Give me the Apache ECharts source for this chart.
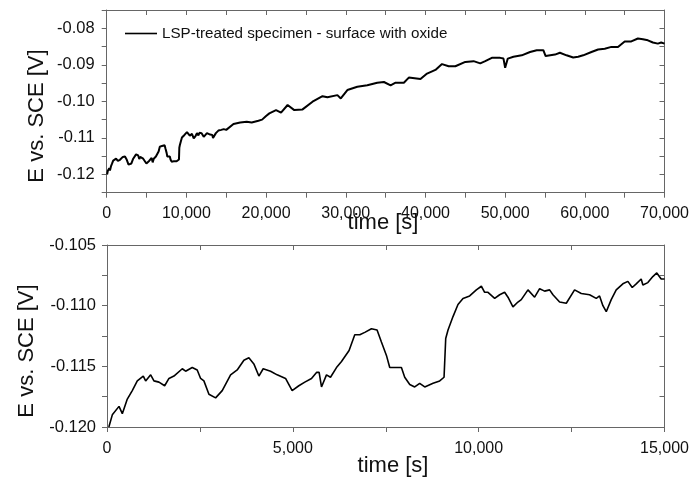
<!DOCTYPE html>
<html>
<head>
<meta charset="utf-8">
<script src="https://cdn.jsdelivr.net/npm/echarts@6/dist/echarts.min.js"></script>
<style>
html,body{margin:0;padding:0;background:#fff;}
#chart{width:692px;height:477px;}
</style>
</head>
<body>
<div id="chart"></div>
<script>
// Detail record (0 - 15,000 s), also the start of the long record
const detailTime = [50,143,323,412,546,680,815,976,1040,1175,1263,1398,1551,1667,1801,2025,2115,2293,2427,2519,2607,2742,2922,3100,3325,3503,3683,3817,3951,4086,4202,4400,4578,4804,4981,5161,5322,5502,5637,5707,5771,5905,6013,6174,6309,6513,6666,6801,6935,7115,7266,7383,7518,7607,7787,7921,8010,8145,8279,8413,8548,8772,8951,9068,9113,9175,9309,9443,9578,9757,9937,10072,10161,10250,10430,10564,10698,10788,10922,11056,11146,11326,11505,11640,11774,11908,11998,12177,12357,12580,12760,12983,13163,13252,13342,13432,13566,13700,13879,14014,14131,14238,14372,14417,14551,14685,14792,14910,15000];
const detailE = [-0.1200,-0.1190,-0.1183,-0.1189,-0.1177,-0.1170,-0.1162,-0.1158,-0.1162,-0.1157,-0.1162,-0.1163,-0.1166,-0.1160,-0.1158,-0.1152,-0.1154,-0.1151,-0.1153,-0.1160,-0.1162,-0.1173,-0.1176,-0.1170,-0.1157,-0.1153,-0.1145,-0.1143,-0.1148,-0.1158,-0.1152,-0.1154,-0.1157,-0.1160,-0.1170,-0.1166,-0.1163,-0.1160,-0.1155,-0.1155,-0.1167,-0.1157,-0.1159,-0.1151,-0.1146,-0.1137,-0.1124,-0.1124,-0.1122,-0.1119,-0.1120,-0.1130,-0.1141,-0.1151,-0.1151,-0.1151,-0.1159,-0.1165,-0.1167,-0.1164,-0.1167,-0.1164,-0.1162,-0.1159,-0.1127,-0.1120,-0.1109,-0.1099,-0.1094,-0.1092,-0.1087,-0.1084,-0.1089,-0.1089,-0.1094,-0.1091,-0.1089,-0.1093,-0.1101,-0.1097,-0.1095,-0.1087,-0.1093,-0.1086,-0.1088,-0.1087,-0.1091,-0.1097,-0.1098,-0.1087,-0.1090,-0.1091,-0.1094,-0.1092,-0.1100,-0.1105,-0.1095,-0.1087,-0.1082,-0.1080,-0.1085,-0.1082,-0.1078,-0.1083,-0.1081,-0.1076,-0.1073,-0.1078,-0.1078];

// Long record beyond 15,000 s
const longTime = [15912,16750,17575,18200,19038,19500,20000,20410,21250,21875,22700,23540,24580,25830,27080,27700,28950,29375,30200,31450,32700,33950,34790,35625,36250,37290,37910,39375,40200,41250,42075,42910,43750,45000,46040,46875,47500,48330,49375,49790,50000,50330,51040,52080,53125,53960,54790,55080,56250,56875,57700,58540,59160,59790,60000,60830,61660,62500,63330,64160,65000,65830,66660,67290,67910,68540,69160,69580,70000];
const longE = [-0.1062,-0.1058,-0.1056,-0.1058,-0.1053,-0.1050,-0.1040,-0.1033,-0.1024,-0.1031,-0.1010,-0.1024,-0.1022,-0.1001,-0.0986,-0.0989,-0.0983,-0.0992,-0.0969,-0.0960,-0.0956,-0.0949,-0.0947,-0.0956,-0.0949,-0.0949,-0.0935,-0.0939,-0.0924,-0.0914,-0.0898,-0.0904,-0.0904,-0.0892,-0.0890,-0.0896,-0.0890,-0.0881,-0.0881,-0.0883,-0.0908,-0.0883,-0.0878,-0.0874,-0.0865,-0.0860,-0.0860,-0.0876,-0.0872,-0.0867,-0.0874,-0.0880,-0.0878,-0.0874,-0.0879,-0.0865,-0.0858,-0.0856,-0.0851,-0.0851,-0.0836,-0.0836,-0.0828,-0.0830,-0.0833,-0.0839,-0.0842,-0.0839,-0.0842];

const legendName = 'LSP-treated specimen - surface with oxide';
const xTitle = 'time [s]';
const yTitle = 'E vs. SCE [V]';

const detailPairs = detailTime.map((t, i) => [t, detailE[i]]);
const fullPairs = detailPairs.concat(longTime.map((t, i) => [t, longE[i]]));

const FONT = 'Liberation Sans, Arial, sans-serif';
const AXC = '#666';
const comma = v => String(v).replace(/\B(?=(\d{3})+(?!\d))/g, ',');

function baseAxis(extra) {
  return Object.assign({
    axisLine: {show: true, onZero: false, lineStyle: {color: AXC, width: 1}},
    splitLine: {show: false},
    axisTick: {show: true, length: 5, lineStyle: {color: AXC}},
  }, extra);
}
const xl = {fontFamily: FONT, fontSize: 16, color: '#111'};
const yl = {fontFamily: FONT, fontSize: 16.5, color: '#111'};

const option = {
  animation: false,
  backgroundColor: '#fff',
  grid: [
    {left: 106.7, right: 27, top: 10, height: 182.7},
    {left: 107, right: 27, top: 245, height: 182}
  ],
  legend: {
    data: [legendName],
    left: 125, top: 26, padding: 0,
    icon: 'rect', itemWidth: 32, itemHeight: 1.6,
    textStyle: {fontFamily: FONT, fontSize: 15.2, color: '#111'},
    itemStyle: {color: '#000'}
  },
  xAxis: [
    baseAxis({type: 'value', gridIndex: 0, min: 0, max: 70000, interval: 5000, position: 'bottom',
      axisLabel: Object.assign({margin: 13, formatter: v => (v % 10000 === 0 ? comma(v) : '')}, xl)}),
    baseAxis({type: 'value', gridIndex: 0, min: 0, max: 70000, interval: 5000, position: 'top',
      axisLabel: {show: false}, axisTick: {show: true, inside: true, length: 5, lineStyle: {color: AXC}}}),
    baseAxis({type: 'value', gridIndex: 1, min: 0, max: 15000, interval: 2500, position: 'bottom',
      axisLabel: Object.assign({margin: 14, formatter: v => (v % 5000 === 0 ? comma(v) : '')}, xl)}),
    baseAxis({type: 'value', gridIndex: 1, min: 0, max: 15000, interval: 2500, position: 'top',
      axisLabel: {show: false}, axisTick: {show: true, inside: true, length: 5, lineStyle: {color: AXC}}})
  ],
  yAxis: [
    baseAxis({type: 'value', gridIndex: 0, min: -0.125, max: -0.075, interval: 0.005, position: 'left',
      axisLabel: Object.assign({margin: 12, formatter: v => (Math.round(v * 1000) % 10 === 0 ? v.toFixed(2) : '')}, yl)}),
    baseAxis({type: 'value', gridIndex: 0, min: -0.125, max: -0.075, interval: 0.005, position: 'right',
      axisLabel: {show: false}, axisTick: {show: true, inside: true, length: 5, lineStyle: {color: AXC}}}),
    baseAxis({type: 'value', gridIndex: 1, min: -0.12, max: -0.105, interval: 0.0025, position: 'left',
      axisLabel: Object.assign({margin: 11, formatter: v => (Math.round(v * 10000) % 50 === 0 ? v.toFixed(3) : '')}, yl)}),
    baseAxis({type: 'value', gridIndex: 1, min: -0.12, max: -0.105, interval: 0.0025, position: 'right',
      axisLabel: {show: false}, axisTick: {show: true, inside: true, length: 5, lineStyle: {color: AXC}}})
  ],
  series: [
    {name: legendName, type: 'line', xAxisIndex: 0, yAxisIndex: 0, data: fullPairs,
      showSymbol: false, symbol: 'none', lineStyle: {color: '#000', width: 2}, itemStyle: {color: '#000'}},
    {name: 'detail', type: 'line', xAxisIndex: 2, yAxisIndex: 2, data: detailPairs,
      showSymbol: false, symbol: 'none', lineStyle: {color: '#000', width: 1.6}, itemStyle: {color: '#000'}}
  ],
  graphic: [
    {type: 'text', x: 37, y: 116, rotation: Math.PI / 2,
      style: {text: yTitle, fontFamily: FONT, fontSize: 22, fill: '#111', align: 'center', verticalAlign: 'middle'}},
    {type: 'text', x: 27, y: 351, rotation: Math.PI / 2,
      style: {text: yTitle, fontFamily: FONT, fontSize: 22, fill: '#111', align: 'center', verticalAlign: 'middle'}},
    {type: 'text', x: 383, y: 223,
      style: {text: xTitle, fontFamily: FONT, fontSize: 22, fill: '#111', align: 'center', verticalAlign: 'middle'}},
    {type: 'text', x: 393, y: 466,
      style: {text: xTitle, fontFamily: FONT, fontSize: 22, fill: '#111', align: 'center', verticalAlign: 'middle'}}
  ]
};

const chart = echarts.init(document.getElementById('chart'), null, {renderer: 'canvas'});
chart.setOption(option);
</script>
</body>
</html>
